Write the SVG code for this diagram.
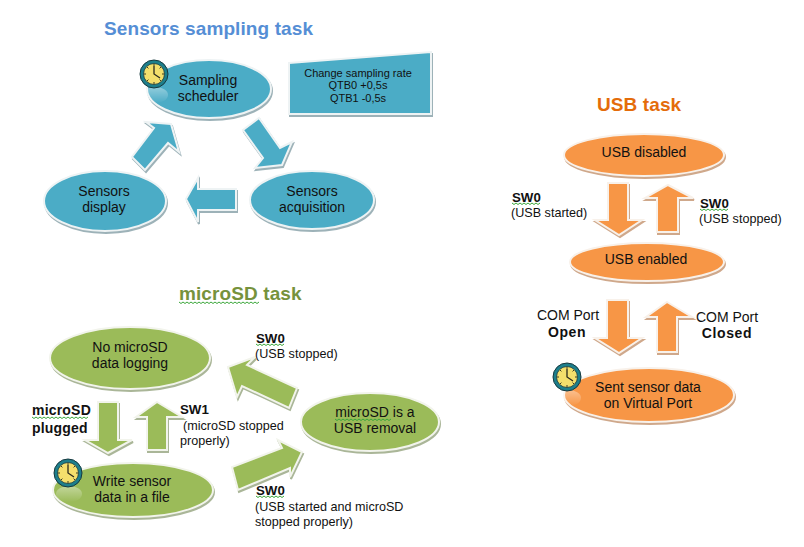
<svg xmlns="http://www.w3.org/2000/svg" xmlns:xlink="http://www.w3.org/1999/xlink" width="804" height="547" viewBox="0 0 804 547">
<style>
text{font-family:"Liberation Sans",Arial,sans-serif;fill:#111}
.t{font-size:19px;font-weight:bold;letter-spacing:.1px}
.n{font-size:14px;text-anchor:middle}
.s{font-size:11px;text-anchor:middle}
.l{font-size:12.6px}
.b{font-size:13.3px;font-weight:bold}
.p{font-size:14px;font-weight:bold;letter-spacing:.2px}
.m{font-size:14px;font-weight:bold;text-anchor:middle;letter-spacing:.6px}
.blue{fill:#4bacc6;stroke:#eef3f4;stroke-width:2;filter:drop-shadow(1.5px 2.5px 0 #9db2b8)}
.green{fill:#9bbb59;stroke:#f2f4ec;stroke-width:2;filter:drop-shadow(1.5px 2.5px 0 #aab698)}
.orange{fill:#f79646;stroke:#f8f1ea;stroke-width:2;filter:drop-shadow(1.5px 2.5px 0 #cfa88b)}
.w{fill:none;stroke:#3aa63a;stroke-width:1}
</style>
<defs>
<linearGradient id="refl" x1="0" y1="0" x2="0" y2="1"><stop offset="0" stop-color="#fff" stop-opacity=".4"/><stop offset="1" stop-color="#fff" stop-opacity="0"/></linearGradient>
<g id="clock">
<ellipse cx="1" cy="21" rx="13" ry="8" fill="url(#refl)"/>
<circle r="14" fill="#1d7f8c" stroke="#17393f" stroke-width="1"/>
<circle r="10.5" fill="#f4df6c" stroke="#17393f" stroke-width=".8"/>
<path d="M0-10V-8M0 10V8M-10 0H-8M10 0H8M-7-7L-5.6-5.6M7-7L5.6-5.6M-7 7L-5.6 5.6M7 7L5.6 5.6" stroke="#3b3a20" stroke-width="1" fill="none"/>
<path d="M0-8V0L6 4" stroke="#2b2a1c" stroke-width="1.3" fill="none"/>
</g>
<path id="w28" class="w" d="M0 0l2 1.5l2-1.5l2 1.5l2-1.5l2 1.5l2-1.5l2 1.5l2-1.5l2 1.5l2-1.5l2 1.5l2-1.5l2 1.5l2-1.5"/>
<path id="w56" class="w" d="M0 0l2 1.5l2-1.5l2 1.5l2-1.5l2 1.5l2-1.5l2 1.5l2-1.5l2 1.5l2-1.5l2 1.5l2-1.5l2 1.5l2-1.5l2 1.5l2-1.5l2 1.5l2-1.5l2 1.5l2-1.5l2 1.5l2-1.5l2 1.5l2-1.5l2 1.5l2-1.5l2 1.5l2-1.5"/>
<path id="w80" class="w" d="M0 0l2 1.5l2-1.5l2 1.5l2-1.5l2 1.5l2-1.5l2 1.5l2-1.5l2 1.5l2-1.5l2 1.5l2-1.5l2 1.5l2-1.5l2 1.5l2-1.5l2 1.5l2-1.5l2 1.5l2-1.5l2 1.5l2-1.5l2 1.5l2-1.5l2 1.5l2-1.5l2 1.5l2-1.5l2 1.5l2-1.5l2 1.5l2-1.5l2 1.5l2-1.5l2 1.5l2-1.5l2 1.5l2-1.5l2 1.5l2-1.5"/>
</defs>
<rect width="804" height="547" fill="#fff"/>
<g id="titles">
<text class="t" x="104" y="35" style="fill:#558ed5">Sensors sampling task</text>
<text class="t" x="179" y="300" style="fill:#76923c">microSD task</text>
<use href="#w80" x="179" y="302"/>
<text class="t" x="597" y="111" style="fill:#e46c0a">USB task</text>
</g>
<g id="connectors">
<polygon class="blue" points="146,122 171,124 179,152 168,143 145,170 132,157 154,128"/>
<polygon class="blue" points="259,118 280,148 292,142 282,165 255,168 263,158 243,130"/>
<polygon class="blue" points="186,199 198,178 198,189 236,189 236,210 198,210 198,222"/>
<polygon class="green" points="98,402 118,402 118,440 132,440 108,453 85,440 98,440"/>
<polygon class="green" points="157,402 182,417 167,417 167,450 147,450 147,417 136,417"/>
<polygon class="green" points="228,367 255,357 247,365 297,388 289,408 242,386 237,397"/>
<polygon class="green" points="302,452 290,477 290,468 238,490 232,467 282,448 278,440"/>
<polygon class="orange" points="608,183 628,183 628,220 642,220 619,235 595,220 608,220"/>
<polygon class="orange" points="668,185 693,198 678,198 678,232 657,232 657,198 645,198"/>
<polygon class="orange" points="607,300 628,300 628,338 642,338 619,353 595,338 607,338"/>
<polygon class="orange" points="667,302 692,317 677,317 677,352 657,352 657,317 646,317"/>
</g>
<g id="sampling-scheduler">
<ellipse class="blue" cx="209" cy="89" rx="62" ry="29"/>
<use href="#clock" x="154" y="74"/>
<text class="n" x="208" y="85">Sampling</text><text class="n" x="208" y="101">scheduler</text>
</g>
<g id="sampling-rate">
<polygon class="blue" points="289,63 431,52 431,114 289,114"/>
<text class="s" x="358" y="77">Change sampling rate</text><text class="s" x="358" y="89">QTB0 +0,5s</text><text class="s" x="358" y="102">QTB1 -0,5s</text>
</g>
<g id="sensors-display">
<ellipse class="blue" cx="105" cy="201" rx="61" ry="30"/>
<text class="n" x="104" y="196">Sensors</text><text class="n" x="104" y="212">display</text>
</g>
<g id="sensors-acquisition">
<ellipse class="blue" cx="312" cy="200" rx="62" ry="29"/>
<text class="n" x="312" y="196">Sensors</text><text class="n" x="312" y="212">acquisition</text>
</g>
<g id="no-microsd">
<ellipse class="green" cx="130" cy="358" rx="80" ry="31"/>
<text class="n" x="130" y="352">No microSD</text><text class="n" x="130" y="368">data logging</text>
</g>
<g id="write-sensor">
<ellipse class="green" cx="133" cy="490" rx="80" ry="27"/>
<use href="#clock" x="68" y="473"/>
<text class="n" x="132" y="486">Write sensor</text><text class="n" x="132" y="502">data in a file</text>
</g>
<g id="usb-removal">
<ellipse class="green" cx="370" cy="422" rx="69" ry="29"/>
<text class="n" x="375" y="417">microSD is a</text><text class="n" x="375" y="433">USB removal</text>
<use href="#w56" x="335" y="419"/>
</g>
<g id="usb-disabled">
<ellipse class="orange" cx="644" cy="155" rx="80" ry="21"/>
<text class="n" x="644" y="157">USB disabled</text>
</g>
<g id="usb-enabled">
<ellipse class="orange" cx="647" cy="262" rx="77" ry="19"/>
<text class="n" x="646" y="264">USB enabled</text>
</g>
<g id="sent-data">
<ellipse class="orange" cx="649" cy="395" rx="85" ry="27"/>
<use href="#clock" x="567" y="377"/>
<text class="n" x="648" y="392">Sent sensor data</text><text class="n" x="648" y="408">on Virtual Port</text>
</g>
<g id="labels">
<text class="p" x="32" y="415">microSD</text><use href="#w56" x="32" y="417"/>
<text class="p" x="32" y="433">plugged</text>
<text class="b" x="180" y="414">SW1</text>
<text class="l" x="183" y="430">(microSD stopped</text>
<text class="l" x="180" y="445">properly)</text>
<text class="b" x="256" y="343">SW0</text><use href="#w28" x="256" y="344"/>
<text class="l" x="255" y="358">(USB stopped)</text>
<text class="b" x="256" y="495">SW0</text><use href="#w28" x="256" y="496"/>
<text class="l" x="255" y="511">(USB started and microSD</text>
<text class="l" x="255" y="526">stopped properly)</text>
<text class="b" x="512" y="202">SW0</text><use href="#w28" x="512" y="203"/>
<text class="l" x="511" y="217">(USB started)</text>
<text class="b" x="700" y="208">SW0</text><use href="#w28" x="700" y="209"/>
<text class="l" x="699" y="223">(USB stopped)</text>
<text class="n" x="568" y="320">COM Port</text>
<text class="m" x="567" y="337">Open</text>
<text class="n" x="727" y="322">COM Port</text>
<text class="m" x="727" y="338">Closed</text>
</g>
</svg>
